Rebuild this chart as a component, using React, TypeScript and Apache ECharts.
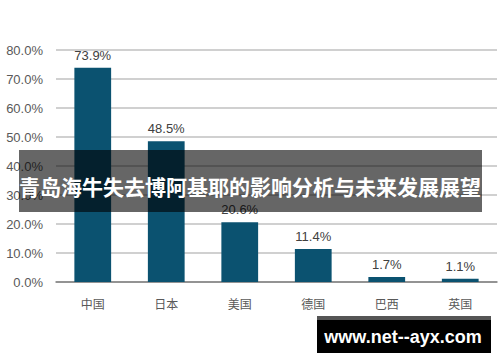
import React, { useEffect, useRef } from "react";
import * as echarts from "echarts";

const categories = ["中国", "日本", "美国", "德国", "巴西", "英国"];
const values = [73.9, 48.5, 20.6, 11.4, 1.7, 1.1];
const bannerTitle = "青岛海牛失去博阿基耶的影响分析与未来发展展望";
const watermark = "www.net--ayx.com";

export default function App() {
  const ref = useRef<HTMLDivElement>(null);
  useEffect(() => {
    document.body.style.margin = "0";
    const chart = echarts.init(ref.current!, null, { renderer: "svg" });
    chart.setOption({
      animation: false,
      backgroundColor: "#ffffff",
      grid: { left: 56, right: 3, top: 50, bottom: 80, containLabel: false },
      xAxis: {
        type: "category",
        data: categories,
        axisLine: { show: true, lineStyle: { color: "#7f7f7f", width: 1.5 } },
        axisTick: { show: false },
        axisLabel: {
          color: "#595959",
          fontSize: 12,
          margin: 15,
          fontFamily: "Noto Sans CJK SC",
        },
      },
      yAxis: {
        type: "value",
        min: 0,
        max: 80,
        interval: 10,
        axisLine: { show: false },
        axisTick: { show: false },
        splitLine: { lineStyle: { color: "#c0c0c0", width: 1.5 } },
        axisLabel: {
          color: "#595959",
          fontSize: 13,
          margin: 13,
          fontFamily: "Liberation Sans, Arial, sans-serif",
          formatter: (v: number) => v.toFixed(1) + "%",
        },
      },
      series: [
        {
          type: "bar",
          data: values,
          barWidth: "50%",
          itemStyle: { color: "#0b5270" },
          label: {
            show: true,
            position: "top",
            distance: 6,
            color: "#404040",
            fontSize: 13,
            fontFamily: "Liberation Sans, Arial, sans-serif",
            formatter: (p: any) => p.value.toFixed(1) + "%",
          },
        },
      ],
      graphic: [
        {
          type: "rect",
          shape: { x: 19, y: 150, width: 463, height: 62 },
          style: { fill: "rgba(0,0,0,0.6)" },
          z: 100,
        },
        {
          type: "text",
          x: 250,
          y: 186,
          z: 101,
          style: {
            text: bannerTitle,
            fill: "#ffffff",
            fontSize: 21,
            fontWeight: "bold",
            fontFamily: "Noto Sans CJK SC",
            align: "center",
            verticalAlign: "middle",
          },
        },
        {
          type: "rect",
          shape: { x: 317, y: 316, width: 174, height: 37 },
          style: { fill: "#000000" },
          z: 100,
        },
        {
          type: "rect",
          shape: { x: 317, y: 316, width: 174, height: 4 },
          style: { fill: "#555555" },
          z: 101,
        },
        {
          type: "text",
          x: 403,
          y: 337,
          z: 102,
          style: {
            text: watermark,
            fill: "#ffffff",
            fontSize: 18,
            fontWeight: "bold",
            fontFamily: "Liberation Sans",
            align: "center",
            verticalAlign: "middle",
          },
        },
      ],
    });
    return () => chart.dispose();
  }, []);
  return <div ref={ref} style={{ width: 500, height: 362 }} />;
}
